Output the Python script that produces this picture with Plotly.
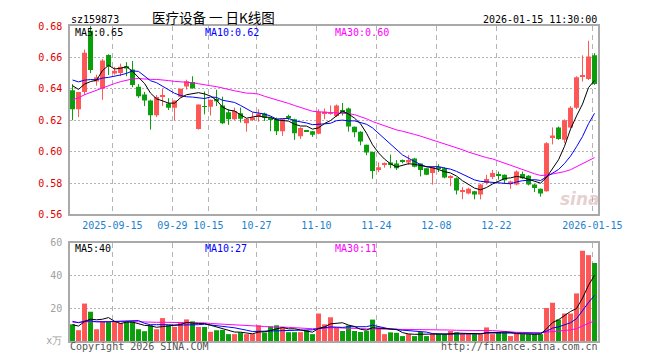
import plotly.graph_objects as go

# ---------------- data ----------------
dates = [
    "2025-09-04", "2025-09-05", "2025-09-08", "2025-09-09", "2025-09-10", "2025-09-11", "2025-09-12",
    "2025-09-15", "2025-09-16", "2025-09-17", "2025-09-18", "2025-09-19", "2025-09-22", "2025-09-23",
    "2025-09-24", "2025-09-25", "2025-09-26", "2025-09-29", "2025-09-30",
    "2025-10-09", "2025-10-10", "2025-10-13", "2025-10-14", "2025-10-15", "2025-10-16", "2025-10-17",
    "2025-10-20", "2025-10-21", "2025-10-22", "2025-10-23", "2025-10-24", "2025-10-27", "2025-10-28",
    "2025-10-29", "2025-10-30", "2025-10-31",
    "2025-11-03", "2025-11-04", "2025-11-05", "2025-11-06", "2025-11-07", "2025-11-10", "2025-11-11",
    "2025-11-12", "2025-11-13", "2025-11-14", "2025-11-17", "2025-11-18", "2025-11-19", "2025-11-20",
    "2025-11-21", "2025-11-24", "2025-11-25", "2025-11-26", "2025-11-27", "2025-11-28",
    "2025-12-01", "2025-12-02", "2025-12-03", "2025-12-04", "2025-12-05", "2025-12-08", "2025-12-09",
    "2025-12-10", "2025-12-11", "2025-12-12", "2025-12-15", "2025-12-16", "2025-12-17", "2025-12-18",
    "2025-12-19", "2025-12-22", "2025-12-23", "2025-12-24", "2025-12-25", "2025-12-26", "2025-12-29",
    "2025-12-30", "2025-12-31",
    "2026-01-05", "2026-01-06", "2026-01-07", "2026-01-08", "2026-01-09", "2026-01-12", "2026-01-13",
    "2026-01-14", "2026-01-15",
]

opens = [
    0.639, 0.627, 0.638, 0.677, 0.6446, 0.640, 0.6615, 0.6498, 0.650, 0.6544,
    0.6523, 0.6413, 0.6363, 0.6325, 0.6231, 0.6352, 0.6306, 0.628, 0.635, 0.6415,
    0.6444, 0.6144, 0.629, 0.6285, 0.6335, 0.6294, 0.625, 0.6206, 0.6244, 0.618,
    0.6206, 0.6221, 0.6242, 0.6212, 0.6206, 0.6129, 0.6227, 0.6206, 0.6098, 0.6131,
    0.6129, 0.6113, 0.6244, 0.6240, 0.6227, 0.6265, 0.6275, 0.6158, 0.6127, 0.6044,
    0.5998, 0.5883, 0.5915, 0.5931, 0.5925, 0.5942, 0.5931, 0.5956, 0.5925, 0.5894,
    0.5863, 0.5898, 0.5894, 0.5835, 0.5831, 0.5748, 0.5733, 0.5748, 0.5727, 0.5800,
    0.5838, 0.5853, 0.5852, 0.5800, 0.5790, 0.5858, 0.5846, 0.5790, 0.5763, 0.5748,
    0.6092, 0.6154, 0.6075, 0.6154, 0.6279, 0.6477, 0.6463, 0.6613,
]
highs = [
    0.643, 0.638, 0.665, 0.690, 0.649, 0.659, 0.662, 0.654, 0.656, 0.657,
    0.6577, 0.643, 0.638, 0.633, 0.636, 0.640, 0.634, 0.6325, 0.640, 0.6458,
    0.648, 0.630, 0.6383, 0.6331, 0.6394, 0.635, 0.627, 0.628, 0.628, 0.621,
    0.625, 0.627, 0.6248, 0.622, 0.6217, 0.6210, 0.6235, 0.621, 0.6155, 0.6135,
    0.6131, 0.627, 0.6275, 0.6294, 0.630, 0.631, 0.628, 0.616, 0.613, 0.6044,
    0.600, 0.5931, 0.5931, 0.5981, 0.5946, 0.595, 0.5977, 0.596, 0.5925, 0.5894,
    0.590, 0.592, 0.590, 0.585, 0.5835, 0.5773, 0.577, 0.575, 0.5795, 0.5852,
    0.5883, 0.5873, 0.5855, 0.5815, 0.588, 0.5873, 0.585, 0.5795, 0.5765, 0.606,
    0.6154, 0.616, 0.6205, 0.629, 0.648, 0.6613, 0.6706, 0.6627,
]
lows = [
    0.620, 0.622, 0.636, 0.650, 0.642, 0.633, 0.6488, 0.649, 0.648, 0.648,
    0.641, 0.6342, 0.629, 0.614, 0.622, 0.629, 0.6265, 0.620, 0.6345, 0.6395,
    0.640, 0.614, 0.6237, 0.623, 0.629, 0.6175, 0.617, 0.620, 0.6185, 0.6127,
    0.6195, 0.619, 0.6195, 0.613, 0.6106, 0.610, 0.620, 0.6075, 0.6081, 0.6125,
    0.6094, 0.611, 0.6206, 0.6235, 0.622, 0.623, 0.6127, 0.6092, 0.604, 0.5977,
    0.5827, 0.5869, 0.5898, 0.5894, 0.5883, 0.5925, 0.5915, 0.590, 0.5842, 0.585,
    0.579, 0.587, 0.583, 0.578, 0.5727, 0.5696, 0.5728, 0.5696, 0.5696, 0.579,
    0.5825, 0.5821, 0.5796, 0.5763, 0.5785, 0.5825, 0.5785, 0.5742, 0.5713, 0.5745,
    0.6046, 0.6075, 0.6054, 0.615, 0.627, 0.6446, 0.6456, 0.6425,
]
closes = [
    0.627, 0.638, 0.663, 0.652, 0.6473, 0.658, 0.6544, 0.6515, 0.654, 0.653,
    0.6425, 0.6352, 0.6325, 0.6231, 0.6348, 0.6360, 0.6279, 0.6325, 0.640, 0.6448,
    0.6404, 0.630, 0.6285, 0.6331, 0.632, 0.618, 0.6206, 0.6258, 0.621, 0.621,
    0.6217, 0.6242, 0.6215, 0.6208, 0.6129, 0.6206, 0.6213, 0.6117, 0.615, 0.6128,
    0.6108, 0.6254, 0.6254, 0.6245, 0.6294, 0.6244, 0.616, 0.6123, 0.6065, 0.5994,
    0.5877, 0.5900, 0.5925, 0.5915, 0.5894, 0.5935, 0.5946, 0.5904, 0.5883, 0.5852,
    0.5900, 0.5890, 0.5835, 0.5844, 0.5752, 0.5752, 0.5763, 0.5727, 0.5790, 0.5825,
    0.5863, 0.5848, 0.5817, 0.5810, 0.5873, 0.5831, 0.5790, 0.5769, 0.5733, 0.6054,
    0.6102, 0.6081, 0.6200, 0.6279, 0.6473, 0.6481, 0.6606, 0.6431,
]
volumes = [
    10.2, 6.6, 22.9, 17.9, 7.2, 12.0, 11.6, 11.6, 11.0, 11.6,
    12.0, 7.2, 6.0, 9.6, 7.2, 14.0, 9.6, 8.6, 11.0, 13.2,
    12.0, 8.6, 8.6, 5.6, 6.6, 6.8, 4.2, 4.2, 5.2, 4.2,
    4.2, 9.6, 5.2, 9.0, 9.6, 8.0, 5.4, 5.4, 5.4, 6.6,
    4.2, 16.8, 10.2, 14.5, 8.3, 6.1, 9.5, 6.1, 5.5, 6.3,
    13.1, 8.1, 4.2, 5.3, 5.0, 3.0, 4.2, 3.0, 5.5, 3.0,
    4.2, 4.2, 4.2, 6.1, 5.3, 4.2, 4.2, 4.2, 4.2, 8.3,
    4.2, 5.5, 5.3, 3.0, 4.6, 4.2, 4.2, 4.2, 4.2, 20.2,
    23.4, 13.1, 16.8, 16.8, 29.1, 55.2, 52.5, 47.7,
]
# sessions before the visible window (estimated, only feed the moving averages)
pre_closes = [
    0.600, 0.604, 0.608, 0.606, 0.610, 0.614, 0.612, 0.618, 0.621, 0.622,
    0.628, 0.633, 0.638, 0.636, 0.641, 0.645, 0.648, 0.646, 0.651, 0.653,
    0.650, 0.652, 0.648, 0.649, 0.647, 0.650, 0.646, 0.644, 0.643,
]
pre_volumes = [
    9.5, 12.0, 10.5, 13.0, 11.0, 9.0, 12.5, 10.0, 11.5, 14.0,
    10.5, 12.0, 9.5, 11.0, 13.5, 10.0, 11.5, 12.5, 10.0, 11.0,
    15.0, 13.0, 16.5, 12.5, 13.0, 11.0, 9.0, 10.5, 9.3,
]
tick_dates = ["2025-09-15", "2025-09-29", "2025-10-15", "2025-10-27", "2025-11-10",
              "2025-11-24", "2025-12-08", "2025-12-22", "2026-01-15"]
tick_labels = ["2025-09-15", "09-29", "10-15", "10-27", "11-10",
               "11-24", "12-08", "12-22", "2026-01-15"]
price_ticks = [0.56, 0.58, 0.60, 0.62, 0.64, 0.66, 0.68]
vol_ticks = [0, 20, 40, 60]
vol_tick_labels = ["x万", "20", "40", "60"]

# ---------------- helpers ----------------
RED = "#fe5656"
GREEN = "#0b9e0b"
MONO = "DejaVu Sans Mono"
CJK = "Noto Sans CJK SC"
OFF = 8  # the page body adds an 8px margin around the figure


def moving_average(values, n, pre):
    full = pre + values
    out = []
    for k in range(len(values)):
        j = len(pre) + k
        out.append(sum(full[j - n + 1:j + 1]) / n)
    return out


N = len(dates)
xs = list(range(N))
up = [closes[i] >= opens[i] for i in range(N)]
colors = [RED if u else GREEN for u in up]

MIN_BODY = 0.0006
bases, heights = [], []
for i in range(N):
    lo, hi = min(opens[i], closes[i]), max(opens[i], closes[i])
    if hi - lo < MIN_BODY:
        mid = (hi + lo) / 2
        lo, hi = mid - MIN_BODY / 2, mid + MIN_BODY / 2
    bases.append(lo)
    heights.append(hi - lo)

fig = go.Figure()

for flag, col in [(True, RED), (False, GREEN)]:
    wx, wy = [], []
    for i in range(N):
        if up[i] == flag:
            wx += [xs[i], xs[i], None]
            wy += [lows[i], highs[i], None]
    fig.add_trace(go.Scatter(x=wx, y=wy, mode="lines", line=dict(color=col, width=1),
                             hoverinfo="skip", xaxis="x", yaxis="y"))

fig.add_trace(go.Bar(x=xs, y=heights, base=bases, width=0.83, marker=dict(color=colors, line=dict(width=0)),
                     xaxis="x", yaxis="y"))

for n, col in [(30, "#ff00ff"), (10, "#0000ff"), (5, "#000000")]:
    fig.add_trace(go.Scatter(x=xs, y=moving_average(closes, n, pre_closes), mode="lines",
                             line=dict(color=col, width=1), xaxis="x", yaxis="y"))

fig.add_trace(go.Bar(x=xs, y=volumes, width=0.83, marker=dict(color=colors, line=dict(width=0)),
                     xaxis="x2", yaxis="y2"))
for n, col in [(30, "#ff00ff"), (10, "#0000ff"), (5, "#000000")]:
    fig.add_trace(go.Scatter(x=xs, y=moving_average(volumes, n, pre_volumes), mode="lines",
                             line=dict(color=col, width=1), xaxis="x2", yaxis="y2"))

# ---------------- layout (screen pixel targets) ----------------
L, R, T, B = 70, 598, 20, 341
W, H = R - L, B - T


def P(px, py):
    return (px - L) / W, (B - py) / H


tickpos = [dates.index(d) - 0.35 for d in tick_dates]
frame = dict(showline=True, linecolor="#a9a9a9", linewidth=1.5, mirror=True, zeroline=False)
vgrid = dict(showgrid=True, gridcolor="#b4b4b4", gridwidth=1, griddash="5px,4px")
hgrid = dict(showgrid=True, gridcolor="#b4b4b4", gridwidth=1, griddash="2px,2px")

fig.update_layout(
    width=660, height=360,
    margin=dict(l=L - OFF, r=660 - R + OFF, t=T - OFF, b=360 - B + OFF),
    paper_bgcolor="white", plot_bgcolor="white",
    showlegend=False, barmode="overlay",
    xaxis=dict(domain=[0, 1], anchor="y", range=[-0.42, N - 0.42], tickmode="array",
               tickvals=tickpos, ticktext=tick_labels, ticks="outside", ticklen=1, tickcolor="white",
               tickfont=dict(family=MONO, size=10, color="#1a7fd0"), **frame, **vgrid),
    yaxis=dict(domain=[(B - 212) / H, 1], anchor="x", range=[0.56, 0.68], tickmode="array",
               tickvals=price_ticks, ticktext=["%.2f" % v for v in price_ticks],
               ticks="outside", ticklen=4, tickcolor="white",
               tickfont=dict(family=MONO, size=10, color="#e00000"), **frame, **hgrid),
    xaxis2=dict(domain=[0, 1], anchor="y2", matches="x", range=[-0.42, N - 0.42], tickmode="array",
                tickvals=tickpos, showticklabels=False, **frame, **vgrid),
    yaxis2=dict(domain=[0, (B - 241) / H], anchor="x2", range=[0, 60], tickmode="array",
                tickvals=vol_ticks, ticktext=vol_tick_labels, ticks="outside", ticklen=4, tickcolor="white",
                tickfont=dict(family=MONO, size=10, color="#a0a0a0"), **frame, **hgrid),
)


def note(text, px, py, anchor="left", color="#000", size=10, family=MONO, **kw):
    x, y = P(px, py)
    fig.add_annotation(text=text, x=x, y=y, xref="paper", yref="paper", xanchor=anchor,
                       yanchor="middle", showarrow=False, borderpad=0,
                       font=dict(family=family, size=size, color=color), **kw)


note("sz159873", 70, 13)
note("医疗设备 一 日K线图", 213, 11, anchor="center", size=13.5, family=CJK)
note("2026-01-15 11:30:00", 598, 13, anchor="right")
note("MA5:0.65", 74, 27)
note("MA10:0.62", 204, 27, color="#0000ff")
note("MA30:0.60", 334, 27, color="#ff00ff")
note("MA5:40", 74, 247)
note("MA10:27", 204, 247, color="#0000ff")
note("MA30:11", 334, 247, color="#ff00ff")
note("Copyright 2026 SINA.COM", 69, 347, color="#555555")
note("http://finance.sina.com.cn", 599, 347, anchor="right", color="#555555")
x0, y0 = P(580, 196)
fig.add_annotation(text="<b><i>sina</i></b>", x=x0, y=y0, xref="paper", yref="paper", xanchor="center",
                   yanchor="middle", showarrow=False,
                   font=dict(family="DejaVu Sans", size=17, color="rgba(200,150,150,0.45)"))

fig.write_html("out.html")
